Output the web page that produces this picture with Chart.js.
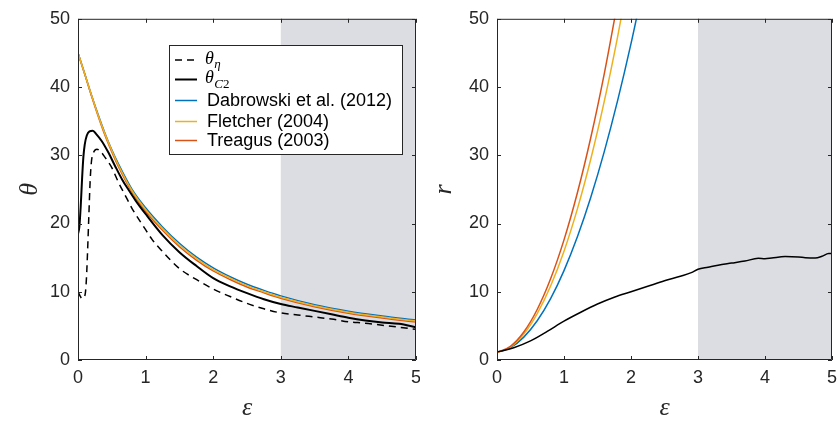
<!DOCTYPE html>
<html>
<head>
<meta charset="utf-8">
<script src="https://cdn.jsdelivr.net/npm/chart.js@4.4.1/dist/chart.umd.min.js"></script>
<style>
  html, body { margin: 0; padding: 0; background: #fff; }
  #wrap { position: relative; width: 840px; height: 421px; }
  .panel { position: absolute; top: 0; width: 420px; height: 421px; }
</style>
</head>
<body>
<div id="wrap">
  <div class="panel" style="left:0"><canvas id="thetaChart"></canvas></div>
  <div class="panel" style="left:420px"><canvas id="ratioChart"></canvas></div>
</div>
<script>
// strain range that gets the grey band
const shadeFrom = 3;
const shadeTo = 5;

// --- angle theta against strain ---
const epsTheory = [0, 0.1, 0.2, 0.3, 0.4, 0.5, 0.6, 0.8, 1, 1.25, 1.5, 1.75, 2, 2.25, 2.5, 2.75, 3, 3.5, 4, 4.5, 5];
const thetaDabrowski = [45, 41.9, 38.8, 35.9, 33.2, 30.8, 28.7, 25.0, 22.3, 19.5, 17.1, 15.1, 13.5, 12.2, 11.1, 10.2, 9.4, 8.1, 7.15, 6.45, 5.85];
const thetaFletcher = [45, 41.9, 38.8, 35.8, 33.1, 30.7, 28.5, 24.8, 22.05, 19.25, 16.85, 14.9, 13.25, 12.0, 10.9, 10.0, 9.2, 7.95, 7.0, 6.3, 5.7];
const thetaTreagus = [45, 41.9, 38.7, 35.7, 32.9, 30.5, 28.3, 24.6, 21.8, 19.0, 16.6, 14.65, 13.05, 11.8, 10.7, 9.85, 9.05, 7.8, 6.85, 6.15, 5.55];

const epsC2 = [0, 0.02, 0.04, 0.06, 0.08, 0.1, 0.13, 0.17, 0.22, 0.27, 0.35, 0.45, 0.55, 0.65, 0.75, 0.85, 1, 1.25, 1.5, 1.75, 2, 2.25, 2.5, 2.75, 3, 3.25, 3.5, 3.75, 4, 4.25, 4.5, 4.75, 5];
const thetaC2 = [18.5, 19.5, 22.5, 26.5, 29.8, 31.6, 32.9, 33.5, 33.6, 33.1, 32.1, 30.4, 28.4, 26.5, 24.9, 23.4, 21.4, 18.3, 15.8, 13.8, 12.0, 10.8, 9.8, 8.9, 8.2, 7.7, 7.2, 6.7, 6.2, 5.8, 5.5, 5.3, 4.8];

const epsEta = [0, 0.03, 0.06, 0.09, 0.11, 0.125, 0.14, 0.16, 0.18, 0.2, 0.24, 0.28, 0.33, 0.4, 0.5, 0.6, 0.7, 0.8, 0.9, 1, 1.1, 1.25, 1.5, 1.75, 2, 2.25, 2.5, 2.75, 3, 3.25, 3.5, 3.75, 4, 4.25, 4.5, 4.75, 5];
const thetaEta = [10.0, 9.4, 9.0, 9.2, 9.9, 12.0, 15.5, 21.0, 26.3, 29.2, 30.6, 30.9, 30.6, 29.7, 28.2, 26.0, 24.1, 22.2, 20.6, 19.1, 17.6, 15.9, 13.4, 11.8, 10.4, 9.3, 8.3, 7.5, 6.9, 6.6, 6.3, 6.0, 5.6, 5.4, 5.1, 4.8, 4.5];

// --- aspect ratio r against strain ---
const epsRatio = [0, 0.2, 0.4, 0.6, 0.8, 1, 1.2, 1.4, 1.6, 1.8, 2, 2.2];
const rDabrowski = [1.1, 1.8, 3.35, 5.75, 9.0, 13.1, 18.05, 23.85, 30.5, 38.0, 46.35, 55.55];
const rFletcher = [1.1, 1.9, 3.8, 6.8, 10.85, 15.95, 22.15, 29.45, 37.85, 47.35, 57.95];
const rTreagus = [1.1, 2.0, 4.1, 7.4, 11.9, 17.6, 24.5, 32.6, 41.9, 52.4];

const epsObserved = [0, 0.1, 0.25, 0.5, 0.75, 1, 1.25, 1.5, 1.75, 2, 2.25, 2.5, 2.75, 2.9, 3, 3.15, 3.3, 3.5, 3.7, 3.9, 4, 4.1, 4.3, 4.5, 4.6, 4.75, 4.85, 4.95, 5];
const rObserved = [1.2, 1.4, 1.8, 2.8, 4.2, 5.7, 7.0, 8.2, 9.2, 10.0, 10.8, 11.6, 12.3, 12.8, 13.3, 13.6, 13.9, 14.2, 14.5, 14.9, 14.85, 14.95, 15.15, 15.1, 15.0, 14.95, 15.2, 15.6, 15.6];

const BLUE = '#0072bd', YELLOW = '#edb120', ORANGE = '#d95319', AXIS = '#262626';
const SANS = '"Liberation Sans", Arial, Helvetica, sans-serif';
const SERIF = '"Liberation Serif", "Times New Roman", serif';

const pts = (xs, ys) => ys.map((v, i) => ({ x: xs[i], y: v }));

function line(label, xs, ys, color, width, dash) {
  return {
    label: label,
    data: pts(xs, ys),
    borderColor: color,
    borderWidth: width,
    borderDash: dash || [],
    pointRadius: 0,
    fill: false,
    cubicInterpolationMode: 'monotone'
  };
}

// box round the plot, inward ticks on all four sides, grey band behind the lines
const frame = {
  id: 'frame',
  beforeDatasetsDraw(chart) {
    const { ctx, chartArea: a, scales: { x } } = chart;
    const x0 = x.getPixelForValue(shadeFrom), x1 = x.getPixelForValue(shadeTo);
    ctx.save();
    ctx.fillStyle = '#dcdde2';
    ctx.fillRect(x0, a.top, x1 - x0, a.bottom - a.top);
    ctx.restore();
  },
  afterDatasetsDraw(chart) {
    const { ctx, chartArea: a, scales: { x, y } } = chart;
    const t = 4;
    ctx.save();
    ctx.strokeStyle = AXIS;
    ctx.lineWidth = 1;
    ctx.beginPath();
    ctx.rect(a.left + 0.5, a.top + 0.5, a.right - a.left - 1, a.bottom - a.top - 1);
    x.ticks.forEach(tk => {
      const px = Math.round(x.getPixelForValue(tk.value)) + 0.5;
      ctx.moveTo(px, a.bottom); ctx.lineTo(px, a.bottom - t);
      ctx.moveTo(px, a.top); ctx.lineTo(px, a.top + t);
    });
    y.ticks.forEach(tk => {
      const py = Math.round(y.getPixelForValue(tk.value)) + 0.5;
      ctx.moveTo(a.left, py); ctx.lineTo(a.left + t, py);
      ctx.moveTo(a.right, py); ctx.lineTo(a.right - t, py);
    });
    ctx.stroke();
    ctx.restore();
  }
};

// legend box inside the left panel; theta labels get a subscript
const legendRows = [
  { ds: 0, main: 'θ', sub: [['η', true]] },
  { ds: 1, main: 'θ', sub: [['C', true], ['2', false]] },
  { ds: 4, text: 'Dabrowski et al. (2012)' },
  { ds: 2, text: 'Fletcher (2004)' },
  { ds: 3, text: 'Treagus (2003)' }
];
const legendRowY = [60, 79.5, 100.5, 121.5, 140.5];

const thetaLegend = {
  id: 'thetaLegend',
  afterDraw(chart) {
    const { ctx } = chart;
    ctx.save();
    ctx.fillStyle = '#fff';
    ctx.fillRect(169.5, 45.5, 233, 109);
    ctx.strokeStyle = AXIS;
    ctx.lineWidth = 1;
    ctx.strokeRect(169.5, 45.5, 233, 109);
    legendRows.forEach((row, i) => {
      const ds = chart.data.datasets[row.ds];
      const yy = legendRowY[i];
      ctx.beginPath();
      ctx.strokeStyle = ds.borderColor;
      ctx.lineWidth = ds.borderWidth;
      ctx.setLineDash(ds.borderDash);
      ctx.moveTo(175, yy); ctx.lineTo(197, yy);
      ctx.stroke();
      ctx.setLineDash([]);
      ctx.fillStyle = '#000';
      ctx.textBaseline = 'middle';
      ctx.textAlign = 'left';
      if (row.text) {
        ctx.font = '18px ' + SANS;
        ctx.fillText(row.text, 207, yy + 0.5);
      } else {
        ctx.font = 'italic 18px ' + SERIF;
        ctx.fillText(row.main, 205, yy - 1);
        let sx = 205 + ctx.measureText(row.main).width + 0.5;
        row.sub.forEach(([s, it]) => {
          ctx.font = (it ? 'italic ' : '') + '13px ' + SERIF;
          ctx.fillText(s, sx, yy + 5);
          sx += ctx.measureText(s).width;
        });
      }
    });
    ctx.restore();
  }
};

function axes(yLabel, yWidth, titlePad) {
  return {
    x: {
      type: 'linear', min: 0, max: 5,
      grid: { display: false, drawTicks: false },
      border: { display: false },
      ticks: { stepSize: 1, padding: 7, maxRotation: 0, autoSkip: false, color: AXIS, font: { family: SANS, size: 18 } },
      title: { display: true, text: 'ε', color: AXIS, padding: 0, font: { family: SERIF, style: 'italic', size: 26, lineHeight: 1 } },
      afterFit(scale) { scale.height = 61; scale.paddingLeft = 0; scale.paddingRight = 0; }
    },
    y: {
      type: 'linear', min: 0, max: 50,
      grid: { display: false, drawTicks: false },
      border: { display: false },
      ticks: { stepSize: 10, padding: 8, autoSkip: false, color: AXIS, font: { family: SANS, size: 18 } },
      title: { display: true, text: yLabel, color: AXIS, padding: { top: titlePad, bottom: 0 }, font: { family: SERIF, style: 'italic', size: 26, lineHeight: 1 } },
      afterFit(scale) { scale.width = yWidth; }
    }
  };
}

function baseOptions(yLabel, yWidth, titlePad, rightPad) {
  return {
    responsive: true,
    maintainAspectRatio: false,
    animation: false,
    layout: { padding: { top: 15, right: rightPad, bottom: 0, left: 0 } },
    plugins: { legend: { display: false }, tooltip: { enabled: false } },
    scales: axes(yLabel, yWidth, titlePad)
  };
}

new Chart(document.getElementById('thetaChart').getContext('2d'), {
  type: 'line',
  data: {
    datasets: [
      line('θη', epsEta, thetaEta, '#000', 1.5, [7, 5]),
      line('θC2', epsC2, thetaC2, '#000', 2),
      line('Fletcher (2004)', epsTheory, thetaFletcher, YELLOW, 1.5),
      line('Treagus (2003)', epsTheory, thetaTreagus, ORANGE, 1.5),
      line('Dabrowski et al. (2012)', epsTheory, thetaDabrowski, BLUE, 1.5)
    ]
  },
  options: baseOptions('θ', 78, 17, 4),
  plugins: [frame, thetaLegend]
});

new Chart(document.getElementById('ratioChart').getContext('2d'), {
  type: 'line',
  data: {
    datasets: [
      line('observed', epsObserved, rObserved, '#000', 1.5),
      line('Treagus (2003)', epsRatio, rTreagus, ORANGE, 1.5),
      line('Fletcher (2004)', epsRatio, rFletcher, YELLOW, 1.5),
      line('Dabrowski et al. (2012)', epsRatio, rDabrowski, BLUE, 1.5)
    ]
  },
  options: baseOptions('r', 77, 11, 8),
  plugins: [frame]
});
</script>
</body>
</html>
